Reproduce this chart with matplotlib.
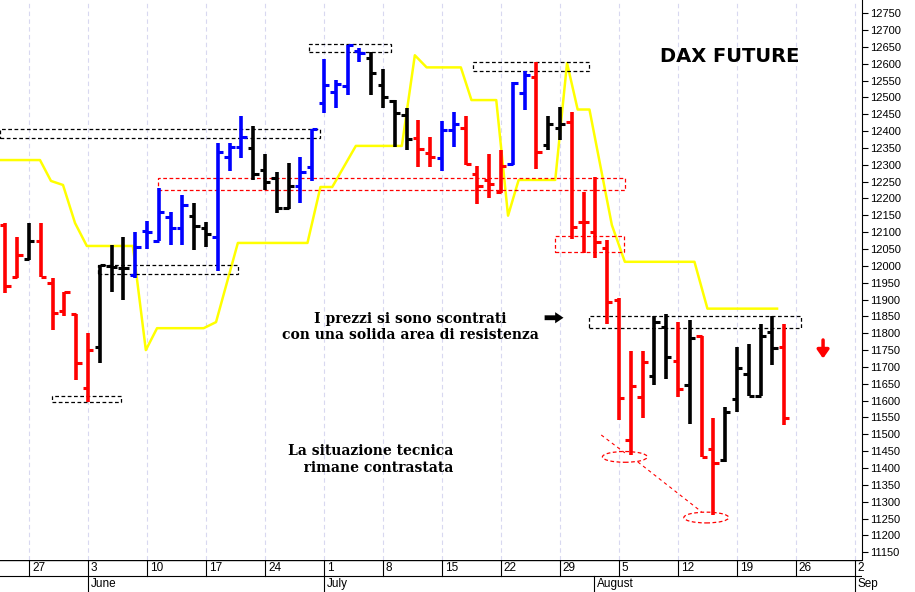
import matplotlib
matplotlib.use("Agg")
import matplotlib.pyplot as plt
from matplotlib.patches import Rectangle, Ellipse

# trading-day index 0 = Mon 27 May 2019
day_idx = list(range(-2, 65))
opens = [12120,11968,12020,12074,11949,11866,11857,11637,11760,12000,11995,11972,12104,12074,12145,12113,12148,12113,12085,12324,12352,12349,12284,12260,12171,12236,12292,12482,12517,12534,12638,12616,12536,12490,12447,12378,12336,12319,12403,12408,12272,12255,12220,12302,12512,12561,12358,12410,12428,12131,12101,12052,11900,11483,11612,11673,11819,11718,11646,11793,11456,11425,11604,11679,11614,11804,11758]
highs = [12127,12086,12127,12126,11964,11923,11857,11800,12002,12062,12085,12101,12134,12232,12160,12210,12187,12131,12365,12365,12444,12415,12332,12279,12306,12324,12405,12613,12551,12655,12648,12635,12583,12492,12467,12432,12381,12431,12457,12445,12296,12332,12344,12546,12579,12604,12444,12470,12457,12220,12265,12076,11906,11747,11746,11852,11857,11834,11839,11793,11547,11582,11760,11767,11827,11852,11827]
lows = [11919,11963,12017,11967,11810,11851,11661,11597,11712,11923,11898,11964,12050,12074,12062,12062,12047,12057,11985,12281,12319,12255,12225,12158,12168,12187,12253,12454,12467,12506,12604,12506,12467,12352,12344,12294,12294,12281,12353,12299,12183,12200,12215,12299,12464,12286,12344,12373,12081,12039,12022,11827,11542,11439,11547,11646,11663,11610,11531,11432,11261,11419,11567,11614,11614,11706,11528]
closes = [11940,12032,12074,11967,11860,11923,11712,11750,12002,11998,11995,12057,12101,12160,12113,12180,12118,12096,12339,12353,12383,12274,12250,12171,12237,12279,12405,12536,12541,12655,12633,12571,12502,12454,12375,12346,12324,12403,12420,12302,12237,12243,12296,12543,12566,12339,12420,12422,12116,12131,12071,11893,11607,11643,11715,11834,11728,11634,11785,11432,11414,11567,11696,11614,11792,11755,11549]
colors = ["r","r","k","r","r","r","r","r","k","k","k","b","b","b","b","b","k","k","b","b","b","k","k","k","k","b","b","b","b","b","b","k","k","k","k","r","r","b","b","r","r","r","r","b","b","r","k","k","r","r","r","r","r","r","r","k","k","r","k","r","r","k","k","k","k","k","r"]
cmap = {"r": "#ff0000", "k": "#000000", "b": "#0000ff"}

yellow_x = [-2.46,0.93,1.86,2.88,3.9,4.9,8.8,9.9,10.85,14.8,15.85,17.7,23.6,24.7,25.7,27.7,31.6,32.7,33.7,36.6,37.5,39.6,40.6,41.5,44.6,45.6,46.5,47.5,49.4,50.5,56.4,57.5,63.4]
yellow_v = [12314,12314,12252,12240,12127,12059,12059,11750,11815,11815,11833,12068,12068,12234,12234,12356,12356,12625,12589,12589,12492,12492,12149,12255,12255,12602,12464,12464,12121,12012,12012,11873,11873]

# dashed zones: (x0, x1, v0, v1, colour)
zones = [(-2.5,24.7,12379,12406,"k"),(5.85,17.7,11976,12002,"k"),(1.95,7.8,11596,11614,"k"),
         (23.7,30.7,12634,12658,"k"),(37.6,47.5,12578,12605,"k"),(47.5,65.4,11815,11851,"k"),
         (10.9,50.5,12225,12260,"r"),(44.6,50.4,12041,12088,"r")]

mondays = [0,5,10,15,20,25,30,35,40,45,50,55,60,65,70]
monday_labels = ["27","3","10","17","24","1","8","15","22","29","5","12","19","26","2"]
month_pos = [5,25,47.9,70]
month_labels = ["June","July","August","Sep"]
yticks = list(range(11150, 12751, 50))

NARROW = ["Liberation Sans Narrow", "Liberation Sans", "DejaVu Sans"]

fig = plt.figure(figsize=(9.15,5.92), dpi=100)
W, H = 915, 592
ax = fig.add_axes([0, 32/H, 862/W, 1-32/H])
xmin, xmax = -2.46, 70.6
ax.set_xlim(xmin, xmax)
ax.set_ylim(11127, 12789)

for m in mondays:
    ax.axvline(m, color="#d8d8f0", lw=0.8, ls=(0,(4,3)), zorder=0)

ax.plot(yellow_x, yellow_v, color="#ffff00", lw=1.8, zorder=1)

for i, o, h, l, c, col in zip(day_idx, opens, highs, lows, closes, colors):
    cc = cmap[col]
    ax.vlines(i, l, h, color=cc, lw=2.6, zorder=3)
    ax.hlines(o, i-0.45, i, color=cc, lw=2.2, zorder=3)
    ax.hlines(c, i, i+0.45, color=cc, lw=2.2, zorder=3)

for x0, x1, v0, v1, col in zones:
    ax.add_patch(Rectangle((x0, v0), x1-x0, v1-v0, fill=False,
                           ec=cmap[col], lw=0.9, ls=(0,(3,2)), zorder=2))

for cx, cv in [(50.5,11433),(57.4,11253)]:
    ax.add_patch(Ellipse((cx, cv), 3.8, 32, fill=False, ec="#ff0000", lw=0.9, ls=(0,(3,2)), zorder=4))
ax.plot([48.5,50.5],[11498,11445], color="#ff0000", lw=0.8, ls=(0,(3,3)))
ax.plot([51.6,57.0],[11418,11270], color="#ff0000", lw=0.8, ls=(0,(3,3)))

ax.text(59.4, 12620, "DAX FUTURE", fontsize=14, fontweight="bold", ha="center", va="center")
ax.text(32.3, 11818, "I prezzi si sono scontrati\ncon una solida area di resistenza",
        fontsize=10, fontweight="bold", family="DejaVu Serif", ha="center", va="center", linespacing=1.2)
ax.text(29.0, 11425, "La situazione tecnica\n   rimane contrastata",
        fontsize=10, fontweight="bold", family="DejaVu Serif", ha="center", va="center", linespacing=1.2)
ax.annotate("", xy=(45.3, 11846), xytext=(43.7, 11846),
            arrowprops=dict(arrowstyle="simple,head_width=0.8,head_length=0.6,tail_width=0.35",
                            color="black", lw=0, shrinkA=0, shrinkB=0))
ax.annotate("", xy=(67.3, 11725), xytext=(67.3, 11780),
            arrowprops=dict(arrowstyle="-|>,head_width=0.35,head_length=0.5", color="#ff0000", lw=2.5,
                            shrinkA=0, shrinkB=0))

ax.yaxis.tick_right()
ax.set_yticks(yticks)
ax.set_yticklabels([str(v) for v in yticks], fontsize=8, family=NARROW)
ax.tick_params(axis="y", length=4, direction="out", pad=2)
ax.set_xticks([])
for s in ["top", "left", "bottom"]:
    ax.spines[s].set_visible(False)
ax.spines["right"].set_color("#000000")

bx = fig.add_axes([0, 0, 862/W, 32/H])
bx.set_xlim(xmin, xmax)
bx.set_ylim(0, 2)
bx.axis("off")
bx.axhline(2, color="black", lw=1)
bx.axhline(1, color="black", lw=0.8)
for m, lab in zip(mondays, monday_labels):
    bx.plot([m, m], [1, 2], color="black", lw=0.8)
    bx.text(m+0.25, 1.5, lab, fontsize=8.5, ha="left", va="center", family=NARROW)
for m, lab in zip(month_pos, month_labels):
    bx.plot([m, m], [0, 1], color="black", lw=0.8)
    bx.text(m+0.25, 0.5, lab, fontsize=8.5, ha="left", va="center", family=NARROW)

fig.savefig("out.png", dpi=100)
